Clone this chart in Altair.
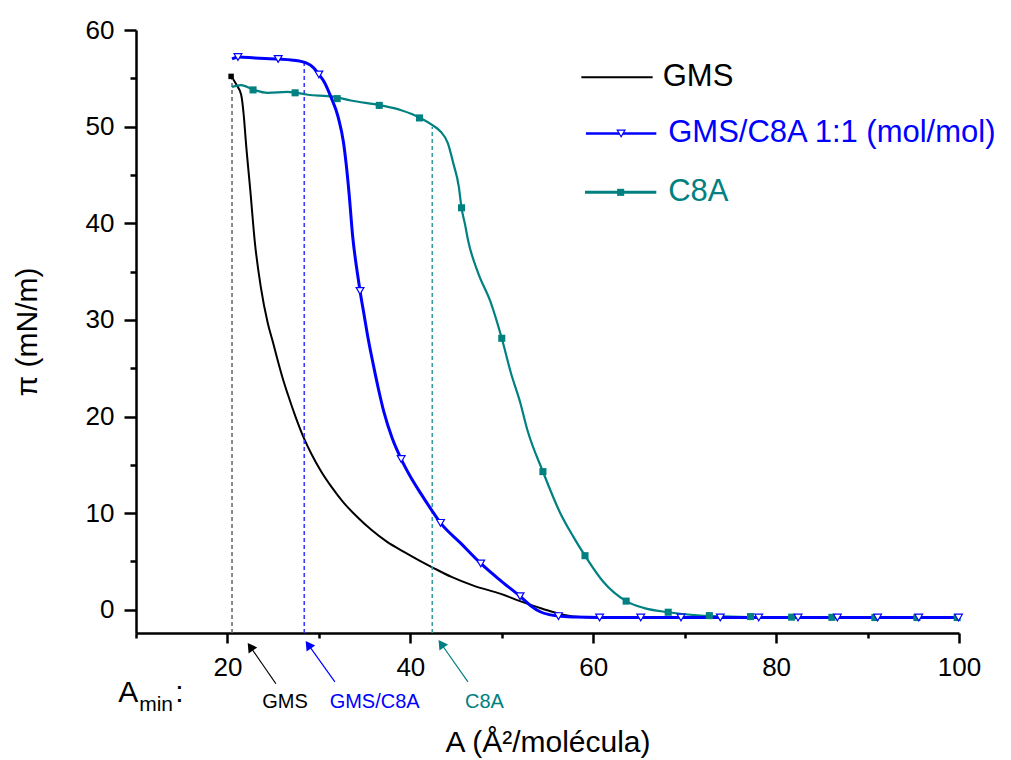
import altair as alt
import pandas as pd

FONT = "Liberation Sans"

# ---------------- data ----------------
# GMS isotherm (A in Å²/molecule, pi in mN/m)
gms_A = [20.4, 20.7, 21.0, 21.5, 21.8, 22.0, 22.5, 23.0, 23.65, 24.4, 25.0,
         25.5, 26.0, 26.6, 27.4, 28.3, 29.2, 30.2, 31.4, 32.7, 34.2, 35.7, 37.5, 39.3,
         41.0, 42.5, 44.5, 46.9, 49.9, 52.0, 54.0, 55.7, 57.0, 58.6, 60.0, 70.0, 80.0,
         90.0, 100.0]
gms_pi = [55.2, 54.8, 54.3, 53.3, 51.0, 48.6, 43.4, 38.0, 33.4, 29.7, 27.6,
          25.8, 24.1, 22.3, 20.1, 17.9, 16.1, 14.4, 12.7, 11.1, 9.6, 8.3, 7.0, 6.0,
          5.1, 4.35, 3.4, 2.5, 1.65, 0.9, 0.25, -0.25, -0.55, -0.75, -0.8, -0.8, -0.8,
          -0.8, -0.8]

# GMS/C8A 1:1 (mol/mol)
mix_A = [20.5, 21.2, 23.0, 25.6, 27.0, 28.6, 29.4, 30.0, 30.6, 31.3, 32.1, 32.7, 33.0,
         33.3, 33.7, 34.2, 34.5, 35.0, 35.4, 35.9, 36.5, 37.1, 38.0, 39.0, 40.0, 41.1,
         42.2, 43.3, 45.5, 47.7, 49.9, 52.0, 53.2, 54.2, 55.2, 56.2, 58.0, 60.7, 70.0,
         80.0, 90.0, 100.0]
mix_pi = [57.0, 57.2, 57.1, 57.0, 56.9, 56.6, 56.1, 55.4, 54.6, 53.1, 51.0, 48.3, 46.0,
          43.1, 38.6, 34.9, 33.0, 30.2, 28.0, 25.6, 22.9, 20.5, 17.8, 15.6, 13.8, 12.1,
          10.5, 9.0, 6.9, 4.8, 3.0, 1.4, 0.4, -0.2, -0.5, -0.65, -0.75, -0.8, -0.8,
          -0.8, -0.8, -0.8]

# C8A
c8a_A = [20.5, 21.5, 22.9, 24.4, 26.6, 28.8, 31.6, 33.5, 36.8, 39.0, 41.1, 42.5, 43.3,
         44.1, 44.7, 45.3, 45.6, 46.0, 46.3, 47.4, 48.8, 50.0, 51.0, 52.0, 52.8, 54.5,
         56.4, 57.8, 59.1, 61.1, 63.6, 65.5, 68.2, 71.7, 75.0, 80.0, 90.0, 100.0]
c8a_pi = [54.1, 54.3, 53.8, 53.5, 53.6, 53.3, 53.1, 52.7, 52.2, 51.7, 50.9, 50.1, 49.5,
          48.3, 46.2, 43.8, 41.6, 39.8, 38.3, 34.9, 31.8, 28.1, 24.5, 21.5, 18.6, 14.3,
          10.0, 7.6, 5.6, 2.9, 0.9, 0.2, -0.25, -0.6, -0.7, -0.78, -0.8, -0.8]

# symbols drawn on the curves
mix_mk_A = [21.15, 25.55, 30.0, 34.5, 39.0, 43.3, 47.7, 52.0, 56.2, 60.7, 65.2, 69.6,
            73.9, 78.1, 82.4, 86.7, 91.1, 95.6, 99.95]
mix_mk_pi = [57.2, 57.0, 55.4, 33.0, 15.6, 9.0, 4.8, 1.4, -0.65, -0.8, -0.8, -0.8,
             -0.8, -0.8, -0.8, -0.8, -0.8, -0.8, -0.8]
c8a_mk_A = [22.8, 27.4, 32.0, 36.6, 41.0, 45.6, 50.0, 54.5, 59.1, 63.6, 68.2, 72.7,
            77.2, 81.7, 86.1, 90.8, 95.4, 99.8]
c8a_mk_pi = [53.8, 53.5, 52.9, 52.2, 50.9, 41.6, 28.1, 14.3, 5.6, 0.9, -0.25, -0.6,
             -0.7, -0.76, -0.78, -0.8, -0.8, -0.8]
gms_mk_A = [20.4]
gms_mk_pi = [55.2]

# A_min markers (dashed verticals)
amin_names = ["GMS", "GMS/C8A", "C8A"]
amin_A = [20.5, 28.4, 42.4]
amin_top = [55.0, 56.6, 50.0]
amin_colors = ["#6e6e6e", "#3a3aff", "#3a9e9e"]

# arrows below the axis (tail -> head) and their labels
arrow_tail_A = [25.3, 31.75, 46.3]
arrow_tail_pi = [-7.65, -7.45, -7.45]
arrow_head_A = [22.5, 28.84, 43.37]
arrow_head_pi = [-3.82, -3.61, -3.51]
arrow_colors = ["#000000", "#0000ff", "#008080"]
label_A = [26.3, 36.1, 48.1]
label_pi = [-10.2, -10.2, -10.2]

# legend entries
leg_names = ["GMS", "GMS/C8A 1:1 (mol/mol)", "C8A"]
leg_colors = ["#000000", "#0000ff", "#008080"]
leg_x1 = [58.7, 59.2, 59.1]
leg_x2 = [66.5, 66.9, 66.9]
leg_y = [55.1, 49.3, 43.2]
leg_text_x = [67.6, 68.2, 68.2]

# ---------------- scales ----------------
xs = alt.Scale(domain=[10, 100], nice=False, zero=False)
ys = alt.Scale(domain=[-2.4, 60], nice=False, zero=False)

x_axis = alt.Axis(
    values=list(range(10, 101, 10)),
    labelExpr="datum.value % 20 === 0 ? datum.label : ''",
    tickSize={"condition": {"test": "datum.value % 20 === 0", "value": 10}, "value": 5},
    tickWidth=2.5, domainWidth=2.5, domainColor="black", tickColor="black",
    labelFont=FONT, labelFontSize=26, labelColor="black", labelPadding=11,
    labelFlush=False, labelOverlap=False, grid=False,
    title="A (Å²/molécula)", titleFont=FONT, titleFontSize=30,
    titleFontWeight="normal", titleColor="black", titlePadding=47,
)
y_axis = alt.Axis(
    values=list(range(0, 61, 5)),
    labelExpr="datum.value % 10 === 0 ? datum.label : ''",
    tickSize={"condition": {"test": "datum.value % 10 === 0", "value": 12}, "value": 6},
    tickWidth=2.5, domainWidth=2.5, domainColor="black", tickColor="black",
    labelFont=FONT, labelFontSize=26, labelColor="black", labelPadding=10,
    labelFlush=False, labelOverlap=False, grid=False,
    title="π (mN/m)", titleFont=FONT, titleFontSize=30,
    titleFontWeight="normal", titleColor="black", titlePadding=43,
)


def frame(a, p):
    return pd.DataFrame({"A": a, "pi": p})


def X(f):
    return alt.X(f, scale=xs)


def Y(f):
    return alt.Y(f, scale=ys)


gms = frame(gms_A, gms_pi)
mix = frame(mix_A, mix_pi)
c8a = frame(c8a_A, c8a_pi)

gms_line = alt.Chart(gms).mark_line(color="#000000", strokeWidth=2,
                                    interpolate="monotone").encode(
    x=alt.X("A:Q", scale=xs, axis=x_axis),
    y=alt.Y("pi:Q", scale=ys, axis=y_axis),
)
c8a_line = alt.Chart(c8a).mark_line(color="#008080", strokeWidth=2.2,
                                    interpolate="monotone").encode(
    x=X("A:Q"), y=Y("pi:Q"))
mix_line = alt.Chart(mix).mark_line(color="#0000ff", strokeWidth=3,
                                    interpolate="monotone").encode(
    x=X("A:Q"), y=Y("pi:Q"))

c8a_pts = alt.Chart(frame(c8a_mk_A, c8a_mk_pi)).mark_point(
    shape="square", filled=True, color="#008080", size=50, opacity=1).encode(
    x=X("A:Q"), y=Y("pi:Q"))
mix_pts = alt.Chart(frame(mix_mk_A, mix_mk_pi)).mark_point(
    shape="triangle-down", filled=True, fill="white", stroke="#0000ff",
    strokeWidth=1.2, size=60, opacity=1).encode(
    x=X("A:Q"), y=Y("pi:Q"))
gms_pts = alt.Chart(frame(gms_mk_A, gms_mk_pi)).mark_point(
    shape="square", filled=True, color="#000000", size=30, opacity=1).encode(
    x=X("A:Q"), y=Y("pi:Q"))

amin_df = pd.DataFrame({"name": amin_names, "A": amin_A, "top": amin_top,
                        "bottom": [-2.4] * 3, "color": amin_colors})
amin_rules = alt.Chart(amin_df).mark_rule(strokeDash=[4, 3], strokeWidth=1.6).encode(
    x=X("A:Q"), y=Y("bottom:Q"), y2="top:Q",
    color=alt.Color("color:N", scale=None),
)

arrow_df = pd.DataFrame({"name": amin_names, "tA": arrow_tail_A, "tpi": arrow_tail_pi,
                         "hA": arrow_head_A, "hpi": arrow_head_pi, "color": arrow_colors,
                         "lA": label_A, "lpi": label_pi})
arrow_lines = alt.Chart(arrow_df).mark_rule(strokeWidth=1.2).encode(
    x=X("tA:Q"), y=Y("tpi:Q"), x2="hA:Q", y2="hpi:Q",
    color=alt.Color("color:N", scale=None))
arrow_heads = alt.Chart(arrow_df).mark_point(
    shape="triangle-up", filled=True, size=110, angle=325, opacity=1).encode(
    x=X("hA:Q"), y=Y("hpi:Q"), color=alt.Color("color:N", scale=None))
arrow_text = alt.Chart(arrow_df).mark_text(
    font=FONT, fontSize=20, align="center", baseline="alphabetic").encode(
    x=X("lA:Q"), y=Y("lpi:Q"), text="name:N", color=alt.Color("color:N", scale=None))

amin_parts = ["A", "min", ":"]
amin_part_A = [8.05, 10.35, 14.3]
amin_part_pi = [-9.5, -10.45, -9.5]
amin_part_size = [30, 21, 30]
amin_lbl = alt.Chart(pd.DataFrame({"t": amin_parts, "A": amin_part_A, "pi": amin_part_pi,
                                   "s": amin_part_size})).mark_text(
    font=FONT, align="left", baseline="alphabetic", color="black").encode(
    x=X("A:Q"), y=Y("pi:Q"), text="t:N", size=alt.Size("s:Q", scale=None))

leg_df = pd.DataFrame({"name": leg_names, "color": leg_colors, "x1": leg_x1,
                       "x2": leg_x2, "y": leg_y, "tx": leg_text_x,
                       "mx": [(a + b) / 2 for a, b in zip(leg_x1, leg_x2)]})
leg_lines = alt.Chart(leg_df).mark_rule().encode(
    x=X("x1:Q"), x2="x2:Q", y=Y("y:Q"),
    color=alt.Color("color:N", scale=None),
    strokeWidth=alt.StrokeWidth("name:N", scale=alt.Scale(domain=leg_names, range=[2, 3, 2.2]),
                                legend=None))
leg_tri = alt.Chart(leg_df.iloc[[1]]).mark_point(
    shape="triangle-down", filled=True, fill="white", stroke="#0000ff",
    strokeWidth=1.2, size=60, opacity=1).encode(x=X("mx:Q"), y=Y("y:Q"))
leg_sq = alt.Chart(leg_df.iloc[[2]]).mark_point(
    shape="square", filled=True, color="#008080", size=50, opacity=1).encode(
    x=X("mx:Q"), y=Y("y:Q"))
leg_txt = alt.Chart(leg_df).mark_text(
    font=FONT, fontSize=31, align="left", baseline="middle").encode(
    x=X("tx:Q"), y=Y("y:Q"), text="name:N", color=alt.Color("color:N", scale=None))

chart = alt.layer(
    gms_line, amin_rules, c8a_line, mix_line, c8a_pts, mix_pts, gms_pts,
    arrow_lines, arrow_heads, arrow_text, amin_lbl,
    leg_lines, leg_tri, leg_sq, leg_txt,
).properties(
    width=823, height=603,
    padding={"left": 128, "top": 22, "right": 44, "bottom": 125},
    autosize=alt.AutoSizeParams(type="none"),
).configure(background="white").configure_view(stroke=None)

chart.save("out.html", embed_options={"renderer": "svg", "actions": False})
